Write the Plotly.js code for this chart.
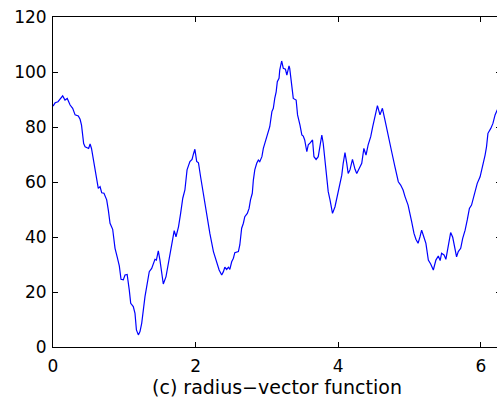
<!DOCTYPE html>
<html>
<head>
<meta charset="utf-8">
<script src="https://cdn.plot.ly/plotly-3.0.1.min.js"></script>
<style>
html, body { margin: 0; padding: 0; overflow: hidden; background: #fff; }
#chart { width: 505px; height: 408px; }
</style>
</head>
<body>
<div id="chart"></div>
<script>
const angle = [0,0.03,0.07,0.10,0.136,0.168,0.2,0.24,0.276,0.31,0.355,0.38,0.40,0.43,0.45,0.5,0.52,0.54,0.565,0.60,0.635,0.66,0.683,0.715,0.753,0.776,0.80,0.837,0.87,0.90,0.93,0.954,0.986,1.01,1.04,1.07,1.09,1.126,1.15,1.17,1.197,1.22,1.244,1.29,1.323,1.35,1.384,1.41,1.43,1.45,1.477,1.5,1.525,1.547,1.585,1.617,1.65,1.68,1.70,1.725,1.76,1.79,1.82,1.85,1.88,1.92,1.95,1.97,1.99,2.015,2.04,2.07,2.10,2.12,2.155,2.20,2.25,2.296,2.33,2.366,2.39,2.41,2.436,2.46,2.48,2.506,2.53,2.55,2.6,2.62,2.646,2.67,2.69,2.725,2.75,2.77,2.795,2.81,2.83,2.857,2.88,2.90,2.93,2.95,2.97,3.0,3.02,3.04,3.07,3.09,3.11,3.13,3.146,3.17,3.18,3.207,3.23,3.26,3.28,3.31,3.32,3.35,3.37,3.41,3.43,3.464,3.49,3.51,3.53,3.56,3.58,3.61,3.64,3.66,3.69,3.72,3.755,3.77,3.79,3.815,3.84,3.86,3.885,3.91,3.92,3.955,3.98,4.0,4.025,4.05,4.07,4.095,4.12,4.14,4.165,4.2,4.236,4.26,4.296,4.33,4.36,4.39,4.42,4.456,4.484,4.516,4.55,4.586,4.62,4.656,4.70,4.75,4.796,4.843,4.876,4.91,4.937,4.98,5.03,5.063,5.09,5.12,5.147,5.17,5.2,5.23,5.264,5.297,5.334,5.37,5.404,5.43,5.45,5.484,5.51,5.544,5.577,5.606,5.64,5.66,5.684,5.718,5.746,5.78,5.81,5.84,5.87,5.895,5.92,5.95,5.99,6.03,6.06,6.08,6.10,6.14,6.17,6.2,6.23,6.283];
const radius = [87.6,88.8,89.2,90.2,91.3,89.8,90.4,88,86.8,84.4,84,82.8,80.7,74,72.8,72.2,73.8,72.2,68,63.7,57.7,58.3,56.1,55.9,53.5,49.8,45,42.8,35.9,32.8,29.5,24.6,24.4,26.2,26.4,20.7,15.9,14.7,12.2,6.2,4.4,5.6,8.6,18.3,23.2,27.4,28.6,31,31.9,31.6,35,31.6,26.8,22.9,25.6,30.4,35.3,40.4,42.3,40.1,43.7,48.6,54.1,57.1,64.4,67.4,68.2,70.2,71.9,67.5,67,61.9,57.1,53.5,48.6,41.3,34.7,30.4,28,26.2,27.4,29,28.2,29,28.2,31,32.3,34.3,34.7,37.1,43.2,45,47.4,48.6,50.4,53.5,55.9,60.7,64.4,66.8,68,67.4,69.2,72.2,74,76.5,77.9,80.1,85.6,86.8,90.4,92.8,96.5,97.7,100.7,104,101.3,101,98.9,102.2,101.3,95.9,90.4,89.8,84.4,80.7,77.1,76.7,75.3,71,73.5,74.3,75.3,69.2,68.2,69.2,74,77.1,74,66.8,61.9,56.5,53.5,49.2,48.6,51,54.1,57.1,59,62.5,66.8,70.7,66.8,63.1,64.4,68.2,64.6,63.1,65,66.8,72.2,69.8,73.5,76.5,80.1,84.4,87.8,84.4,86.8,82.5,76.5,71,65.5,60.1,58.9,57.1,54.7,51.6,45.6,41.3,39.2,37.7,40.1,42.5,40.1,37.7,31.6,30.2,28,31.6,33.1,31.4,34.1,33.5,31.9,37.7,41.6,39.9,35.3,32.8,34.7,35.9,39.5,42.5,46.2,50.4,51.6,54.1,57.1,59.5,61.9,66.2,69.8,72.8,77.7,79.5,81.3,84.4,86.2,88];
const xTicks = [0, 2, 4, 6];
const yTicks = [0, 20, 40, 60, 80, 100, 120];
const xTitle = "(c) radius\u2212vector function";

const font = { family: "DejaVu Sans, Arial, sans-serif", size: 17, color: "#000" };
const titleFont = { family: "DejaVu Sans, Arial, sans-serif", size: 19, color: "#000" };

Plotly.newPlot("chart", [{
  x: angle, y: radius, type: "scatter", mode: "lines",
  line: { color: "#0000ff", width: 1.2 }, hoverinfo: "none"
}], {
  width: 505, height: 408,
  margin: { l: 53, r: 4, t: 17, b: 61 },
  paper_bgcolor: "#fff", plot_bgcolor: "#fff",
  showlegend: false,
  font: font,
  xaxis: {
    range: [0, 2 * Math.PI], tickvals: xTicks, ticktext: xTicks.map(String),
    ticks: "inside", ticklen: 5, tickcolor: "#000", tickwidth: 1,
    showline: true, linecolor: "#000", linewidth: 1, mirror: "ticks",
    showgrid: false, zeroline: false, tickfont: font, ticklabelstandoff: 4,
    title: { text: xTitle, font: titleFont, standoff: 1 }
  },
  yaxis: {
    range: [0, 120], tickvals: yTicks, ticktext: yTicks.map(String),
    ticks: "inside", ticklen: 5, tickcolor: "#000", tickwidth: 1,
    showline: true, linecolor: "#000", linewidth: 1, mirror: "ticks",
    showgrid: false, zeroline: false, tickfont: font, ticklabelstandoff: 2
  }
}, { staticPlot: true, displayModeBar: false });
</script>
</body>
</html>
